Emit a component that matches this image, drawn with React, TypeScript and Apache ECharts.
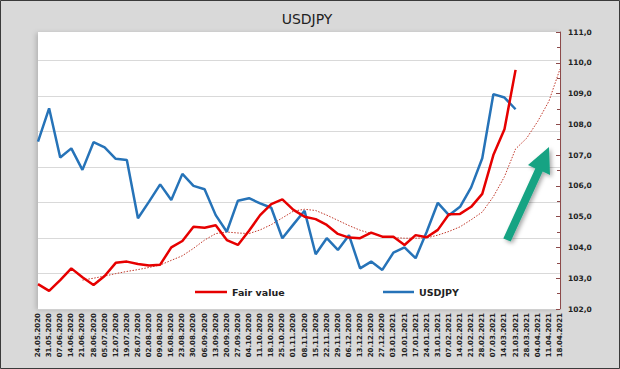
import React, { useEffect, useRef } from "react";
import * as echarts from "echarts";

const dates = [
  "24.05.2020", "31.05.2020", "07.06.2020", "14.06.2020", "21.06.2020", "28.06.2020",
  "05.07.2020", "12.07.2020", "19.07.2020", "26.07.2020", "02.08.2020", "09.08.2020",
  "16.08.2020", "23.08.2020", "30.08.2020", "06.09.2020", "13.09.2020", "20.09.2020",
  "27.09.2020", "04.10.2020", "11.10.2020", "18.10.2020", "25.10.2020", "01.11.2020",
  "08.11.2020", "15.11.2020", "22.11.2020", "29.11.2020", "06.12.2020", "13.12.2020",
  "20.12.2020", "27.12.2020", "03.01.2021", "10.01.2021", "17.01.2021", "24.01.2021",
  "31.01.2021", "07.02.2021", "14.02.2021", "21.02.2021", "28.02.2021", "07.03.2021",
  "14.03.2021", "21.03.2021", "28.03.2021", "04.04.2021", "11.04.2021", "18.04.2021",
];

const usdjpy = [
  107.44, 108.52, 106.92, 107.22, 106.52, 107.42, 107.25, 106.88, 106.84, 104.95,
  105.49, 106.05, 105.54, 106.39, 106.0, 105.89, 105.05, 104.51, 105.52, 105.6,
  105.43, 105.29, 104.3, 104.75, 105.19, 103.78, 104.3, 103.92, 104.4, 103.32,
  103.54, 103.27, 103.83, 104.0, 103.65, 104.51, 105.45, 105.05, 105.32, 105.95,
  106.9, 108.98, 108.87, 108.49, null, null, null, null,
];

const fairValue = [
  102.81, 102.59, 102.94, 103.32, 103.03, 102.78, 103.07, 103.5, 103.54, 103.46,
  103.41, 103.44, 104.0, 104.21, 104.67, 104.64, 104.72, 104.24, 104.08, 104.54,
  105.05, 105.41, 105.56, 105.22, 105.0, 104.92, 104.73, 104.44, 104.32, 104.3,
  104.48, 104.35, 104.35, 104.08, 104.4, 104.33, 104.57, 105.08, 105.09, 105.32,
  105.74, 107.0, 107.84, 109.77, null, null, null, null,
];

const fairTrend = [
  null, null, null, null, 102.94, 103.0, 103.07, 103.15, 103.22, 103.28,
  103.35, 103.43, 103.58, 103.73, 103.97, 104.24, 104.45, 104.5, 104.47, 104.45,
  104.57, 104.74, 104.96, 105.18, 105.24, 105.2, 105.05, 104.88, 104.71, 104.56,
  104.45, 104.36, 104.32, 104.3, 104.3, 104.31, 104.4, 104.52, 104.67, 104.9,
  105.15, 105.65, 106.3, 107.2, 107.55, 108.1, 108.75, 109.8,
];

const yMin = 102;
const yMax = 111;

export default function App() {
  const ref = useRef<HTMLDivElement>(null);
  useEffect(() => {
    if (!ref.current) return;
    const chart = echarts.init(ref.current, undefined, { renderer: "svg" });
    const font = "DejaVu Sans";
    const arrow = [
      [503.3, 238.4],
      [535.3, 168.4],
      [528, 165],
      [549, 147],
      [550, 175],
      [542.7, 171.6],
      [510.7, 241.6],
    ];
    chart.setOption({
      animation: false,
      backgroundColor: "#d9d9d9",
      title: {
        text: "USDJPY",
        left: 302,
        top: 7,
        textAlign: "center",
        textStyle: { fontFamily: font, fontSize: 14, fontWeight: "normal", color: "#222" },
      },
      grid: {
        left: 38,
        right: 60,
        top: 32,
        bottom: 60,
        show: true,
        backgroundColor: "#ffffff",
        borderWidth: 0,
        shadowColor: "rgba(0,0,0,0.18)",
        shadowBlur: 5,
        shadowOffsetX: -2,
        shadowOffsetY: 1,
      },
      legend: [
        {
          data: ["Fair value"],
          left: 190,
          top: 282,
          icon: "rect",
          itemWidth: 32,
          itemHeight: 2.5,
          itemGap: 4,
          textStyle: { fontFamily: font, fontSize: 9.5, fontWeight: "bold", color: "#222" },
        },
        {
          data: ["USDJPY"],
          left: 378,
          top: 282,
          icon: "rect",
          itemWidth: 31,
          itemHeight: 2.5,
          itemGap: 4,
          textStyle: { fontFamily: font, fontSize: 9.5, fontWeight: "bold", color: "#222" },
        },
      ],
      xAxis: {
        type: "category",
        data: dates,
        boundaryGap: false,
        axisLine: { show: true, lineStyle: { color: "#d0d0d0" } },
        axisTick: { show: false },
        axisLabel: {
          rotate: 90,
          interval: 0,
          margin: 4,
          fontFamily: font,
          fontSize: 7,
          fontWeight: "bold",
          color: "#222",
        },
      },
      yAxis: [
        {
          type: "value",
          position: "left",
          min: 0,
          max: 7.8,
          interval: 1,
          axisLabel: { show: false },
          axisLine: { show: false },
          axisTick: { show: false },
          splitLine: { show: true, showMaxLine: false, lineStyle: { color: "#d9d9d9", width: 1 } },
        },
        {
          type: "value",
          position: "right",
          min: yMin,
          max: yMax,
          interval: 1,
          axisLine: { show: true, lineStyle: { color: "#8c4a4a", width: 1 } },
          axisTick: { show: true, inside: true, length: 4, lineStyle: { color: "#8c4a4a" } },
          minorTick: { show: true, splitNumber: 2, length: 3, lineStyle: { color: "#8c4a4a" } },
          splitLine: { show: false },
          axisLabel: {
            margin: 8,
            fontFamily: font,
            fontSize: 7.5,
            fontWeight: "bold",
            color: "#222",
            formatter: (v: number) => v.toFixed(1).replace(".", ","),
          },
        },
      ],
      series: [
        {
          name: "Fair value trend",
          type: "line",
          yAxisIndex: 1,
          data: fairTrend,
          showSymbol: false,
          symbol: "none",
          lineStyle: { color: "#c0392b", width: 1, type: [1.5, 1.5] },
          z: 1,
        },
        {
          name: "Fair value",
          type: "line",
          yAxisIndex: 1,
          data: fairValue,
          symbol: "none",
          itemStyle: { color: "#e60000" },
          lineStyle: { color: "#e60000", width: 2.5 },
          z: 3,
        },
        {
          name: "USDJPY",
          type: "line",
          yAxisIndex: 1,
          data: usdjpy,
          symbol: "none",
          itemStyle: { color: "#2673b8" },
          lineStyle: { color: "#2673b8", width: 2.5 },
          z: 2,
        },
      ],
      graphic: [
        {
          type: "polygon",
          shape: { points: arrow },
          style: {
            fill: "#17a383",
            shadowBlur: 4,
            shadowColor: "rgba(0,0,0,0.35)",
            shadowOffsetX: 2,
            shadowOffsetY: 2,
          },
          z: 10,
        },
        {
          type: "rect",
          shape: { x: 0.5, y: 0.5, width: 619, height: 368 },
          style: { fill: "none", stroke: "#3a3a3a", lineWidth: 1 },
          z: 20,
        },
      ],
    });
    return () => chart.dispose();
  }, []);
  return (
    <div
      ref={ref}
      style={{ position: "fixed", left: 0, top: 0, width: 620, height: 369 }}
    />
  );
}
